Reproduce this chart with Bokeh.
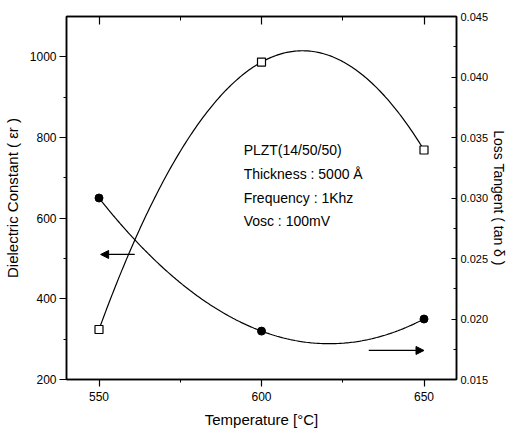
import numpy as np
from bokeh.plotting import figure
from bokeh.models import (LinearAxis, Range1d, FixedTicker, PrintfTickFormatter,
                          CustomJSTickFormatter, Arrow, NormalHead)
from bokeh.core.properties import value
from bokeh.embed import file_html
from bokeh.resources import INLINE

# ---- data ----
temperature = [550, 600, 650]
dielectric_constant = [324, 987, 769]      # left axis, open squares
loss_tangent = [0.0300, 0.0190, 0.0200]    # right axis, filled circles

x_ticks = [550, 600, 650]
x_minor = [575, 625]
left_ticks = [200, 400, 600, 800, 1000]
left_minor = [300, 500, 700, 900]
right_ticks = [0.015, 0.020, 0.025, 0.030, 0.035, 0.040, 0.045]
right_minor = [0.0175, 0.0225, 0.0275, 0.0325, 0.0375, 0.0425]

info_lines = ["PLZT(14/50/50)", "Thickness : 5000 Å", "Frequency : 1Khz", "Vosc : 100mV"]

FONT = "Liberation Sans"

p = figure(width=510, height=437, output_backend="svg", toolbar_location=None,
           x_range=Range1d(540, 660), y_range=Range1d(200, 1100),
           min_border_left=65, min_border_right=50, min_border_top=16, min_border_bottom=58)
p.extra_y_ranges = {"right": Range1d(0.015, 0.045)}
p.xgrid.visible = False
p.ygrid.visible = False
p.background_fill_color = "white"
p.border_fill_color = "white"
p.outline_line_color = "black"
p.outline_line_width = 1.5

# smooth connecting curves through the three measured points
xs = np.linspace(temperature[0], temperature[-1], 200)
sq_curve = np.polyval(np.polyfit(temperature, dielectric_constant, 2), xs)
ci_curve = np.polyval(np.polyfit(temperature, loss_tangent, 2), xs)

p.line(xs, sq_curve, line_color="black", line_width=1.2)
p.line(xs, ci_curve, line_color="black", line_width=1.2, y_range_name="right")
p.scatter(temperature, dielectric_constant, marker="square", size=8,
          fill_color="white", line_color="black", line_width=1.2)
p.scatter(temperature, loss_tangent, marker="circle", size=8,
          fill_color="black", line_color="black", y_range_name="right")

def style_axis(ax, tick_in, tick_out, minor_in, minor_out):
    ax.axis_line_color = "black"
    ax.axis_line_width = 1.5
    ax.major_tick_line_color = "black"
    ax.minor_tick_line_color = "black"
    ax.major_tick_line_width = 1.2
    ax.minor_tick_line_width = 1.0
    ax.major_tick_in = tick_in
    ax.major_tick_out = tick_out
    ax.minor_tick_in = minor_in
    ax.minor_tick_out = minor_out
    ax.major_label_text_font = FONT
    ax.major_label_text_font_size = "12px"
    ax.major_label_text_color = "black"
    ax.axis_label_text_font = FONT
    ax.axis_label_text_font_size = "15px"
    ax.axis_label_text_font_style = "normal"
    ax.axis_label_text_color = "black"

# bottom
xa = p.xaxis[0]
xa.ticker = FixedTicker(ticks=x_ticks, minor_ticks=x_minor)
xa.axis_label = "Temperature [°C]"
style_axis(xa, 0, 7, 0, 3)
xa.major_label_standoff = 5
xa.axis_label_standoff = 7

# left
ya = p.yaxis[0]
ya.ticker = FixedTicker(ticks=left_ticks, minor_ticks=left_minor)
ya.axis_label = "Dielectric Constant ( εr )"
style_axis(ya, 0, 7, 0, 3)
ya.major_label_standoff = 3
ya.axis_label_standoff = 6

# right
ra = LinearAxis(y_range_name="right",
                ticker=FixedTicker(ticks=right_ticks, minor_ticks=right_minor),
                formatter=PrintfTickFormatter(format="%.3f"),
                axis_label="Loss Tangent ( tan δ )")
style_axis(ra, 5, 0, 3, 0)
ra.major_label_text_font_size = "11px"
ra.major_label_standoff = 4
ra.axis_label_standoff = 0
ra.axis_label_text_font_size = "14px"
p.add_layout(ra, "right")

# top (mirror ticks, no labels)
ta = LinearAxis(ticker=FixedTicker(ticks=x_ticks, minor_ticks=x_minor),
                formatter=CustomJSTickFormatter(code="return ''"))
style_axis(ta, 8, 0, 4, 0)
ta.major_label_standoff = 0
p.add_layout(ta, "above")

# arrows
p.add_layout(Arrow(end=NormalHead(size=8, fill_color="black", line_color="black"),
                   x_start=561, y_start=510, x_end=550.5, y_end=510,
                   line_color="black", line_width=1.2))
p.add_layout(Arrow(end=NormalHead(size=8, fill_color="black", line_color="black"),
                   x_start=633, y_start=0.0174, x_end=650, y_end=0.0174,
                   y_range_name="right", line_color="black", line_width=1.2))

# info text
text_y = [769, 710, 651, 592]
p.text(x=[594.5] * 4, y=text_y, text=info_lines, text_font=value(FONT),
       text_font_size="14px", text_baseline="middle", text_align="left",
       text_color="black")

open("out.html", "w").write(file_html(p, INLINE))
